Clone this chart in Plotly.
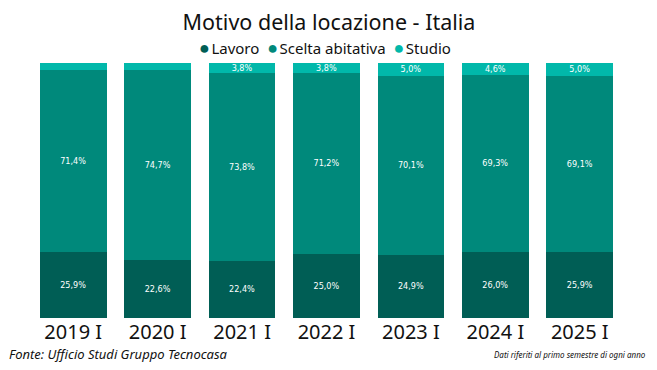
import plotly.graph_objects as go

categories = ["2019 I", "2020 I", "2021 I", "2022 I", "2023 I", "2024 I", "2025 I"]
lavoro = [25.9, 22.6, 22.4, 25.0, 24.9, 26.0, 25.9]
scelta = [71.4, 74.7, 73.8, 71.2, 70.1, 69.3, 69.1]
studio = [2.7, 2.7, 3.8, 3.8, 5.0, 4.6, 5.0]
studio_show = [False, False, True, True, True, True, True]

series = [
    ("Lavoro", lavoro, "#005E55", [True] * 7),
    ("Scelta abitativa", scelta, "#00897B", [True] * 7),
    ("Studio", studio, "#01B8AA", studio_show),
]

def fmt(v):
    return f"{v:.1f}%".replace(".", ",")

fig = go.Figure()
for name, vals, color, show in series:
    fig.add_trace(go.Bar(
        x=categories, y=vals, name=name,
        marker=dict(color=color, line=dict(width=0)),
        text=[fmt(v) if s else "" for v, s in zip(vals, show)],
        textposition="inside", insidetextanchor="middle",
        textfont=dict(color="white", size=9, family="DejaVu Sans Condensed, Roboto"),
        constraintext="none",
        showlegend=False, hoverinfo="skip",
    ))

legend_text = "&nbsp; ".join(
    f"<span style='color:{c};font-size:18px'>●</span>&#8202;{n}" for n, _, c, _ in series
)

fig.update_layout(
    width=657, height=370,
    barmode="stack", bargap=0.21,
    paper_bgcolor="white", plot_bgcolor="white",
    margin=dict(l=23, r=43, t=55, b=60, autoexpand=False),
    font=dict(family="Noto Sans, Open Sans, sans-serif", color="#111"),
    title=dict(text="Motivo della locazione - Italia", x=0.4886, xanchor="center",
               y=0.962, yanchor="middle", font=dict(size=21.5, color="#111")),
    showlegend=False,
    xaxis=dict(showgrid=False, zeroline=False, showline=False, ticks="",
               tickfont=dict(size=20, color="#111")),
    yaxis=dict(visible=False, range=[0, 100]),
    annotations=[
        dict(text=legend_text, xref="paper", yref="paper",
             x=0.498, y=1.062, xanchor="center", yanchor="middle", showarrow=False,
             font=dict(size=15, color="#111")),
        dict(text="<i>Fonte: Ufficio Studi Gruppo Tecnocasa</i>", xref="paper", yref="paper",
             x=-0.0406, y=-0.141, xanchor="left", yanchor="middle", showarrow=False,
             font=dict(size=13, color="#111")),
        dict(text="<i>Dati riferiti al primo semestre di ogni anno</i>", xref="paper", yref="paper",
             x=1.044, y=-0.145, xanchor="right", yanchor="middle", showarrow=False,
             font=dict(size=8, color="#111")),
    ],
)

fig.write_html("out.html")
